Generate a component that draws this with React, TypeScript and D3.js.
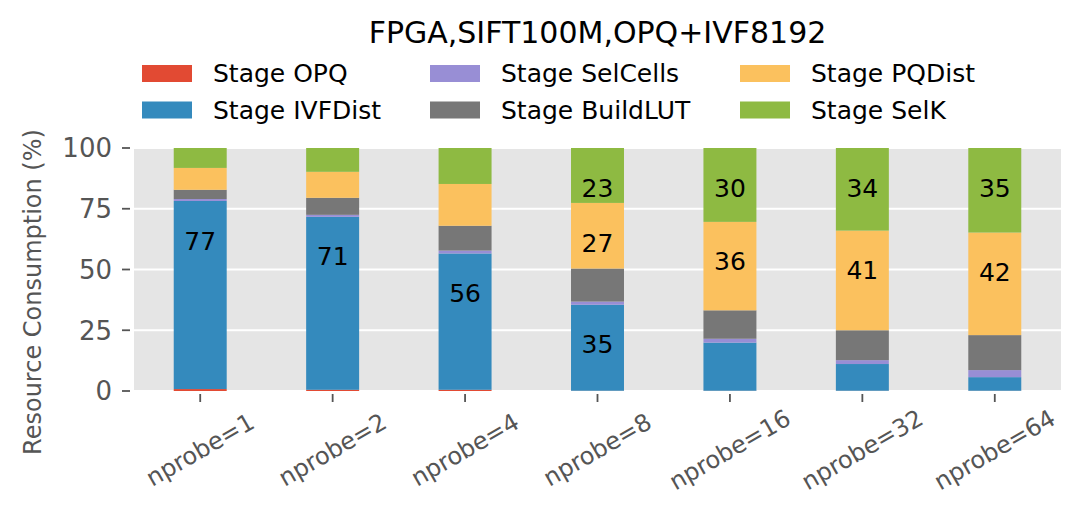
import { scaleBand, scaleLinear, stack } from "d3";

// x categories
const categories = ["nprobe=1", "nprobe=2", "nprobe=4", "nprobe=8", "nprobe=16", "nprobe=32", "nprobe=64"];

// resource consumption per stage (%), one value per category
const stageOPQ = [0.8, 0.5, 0.5, 0.1, 0.1, 0.1, 0.1];
const stageIVFDist = [77.4, 71.2, 56.1, 35.4, 19.8, 11.0, 5.6];
const stageSelCells = [0.8, 0.8, 1.2, 1.3, 1.6, 1.6, 2.9];
const stageBuildLUT = [3.8, 7.0, 10.2, 13.6, 11.7, 12.3, 14.4];
const stagePQDist = [9.0, 10.7, 17.2, 27.0, 36.4, 41.0, 42.2];
const stageSelK = [8.2, 9.8, 14.8, 22.6, 30.4, 34.0, 34.8];

const seriesNames = ["Stage OPQ", "Stage IVFDist", "Stage SelCells", "Stage BuildLUT", "Stage PQDist", "Stage SelK"];
const seriesValues = [stageOPQ, stageIVFDist, stageSelCells, stageBuildLUT, stagePQDist, stageSelK];
const yTicks = [0, 25, 50, 75, 100];

const title = "FPGA,SIFT100M,OPQ+IVF8192";
const yLabel = "Resource Consumption (%)";

// ggplot style colours
const colors = ["#E24A33", "#348ABD", "#988ED5", "#777777", "#FBC15E", "#8EBA42"];
const FONT = "DejaVu Sans, sans-serif";

const WIDTH = 1081;
const HEIGHT = 523;
const PLOT = { left: 134, right: 1061, top: 148, bottom: 391 };

// labels are only drawn for big segments, 20 units under the segment top
const LABEL_MIN = 20;
const LABEL_DROP = 20;

const App = () => {
  const rows = categories.map((c, i) => {
    const row: Record<string, number | string> = { category: c };
    seriesNames.forEach((s, j) => {
      row[s] = seriesValues[j][i];
    });
    return row;
  });
  // @ts-expect-error: d3 stack typing
  const stacked = stack().keys(seriesNames)(rows);

  const x = scaleBand<string>()
    .domain(categories)
    .range([PLOT.left, PLOT.right])
    .paddingInner(0.6)
    .paddingOuter(0.3);
  const y = scaleLinear().domain([0, 100]).range([PLOT.bottom, PLOT.top]);

  return (
    <svg
      width={WIDTH}
      height={HEIGHT}
      style={{ position: "absolute", left: 0, top: 0, background: "white" }}
      fontFamily={FONT}
    >
      {/* title */}
      <text x={(PLOT.left + PLOT.right) / 2} y={43} textAnchor="middle" fontSize={30} fill="black">
        {title}
      </text>

      {/* legend, filled column by column */}
      {seriesNames.map((s, i) => {
        const col = Math.floor(i / 2);
        const row = i % 2;
        const lx = [142, 430, 740][col];
        const ly = 65 + row * 36.5;
        return (
          <g key={s}>
            <rect x={lx} y={ly} width={50} height={17} fill={colors[i]} />
            <text x={lx + 71} y={ly + 17} fontSize={25} fill="black">
              {s}
            </text>
          </g>
        );
      })}

      {/* plot background + grid */}
      <rect
        x={PLOT.left}
        y={PLOT.top}
        width={PLOT.right - PLOT.left}
        height={PLOT.bottom - PLOT.top}
        fill="#E5E5E5"
      />
      {yTicks.map((t) => (
        <line key={t} x1={PLOT.left} x2={PLOT.right} y1={y(t)} y2={y(t)} stroke="white" strokeWidth={1.8} />
      ))}

      {/* stacked bars */}
      {stacked.map((layer, j) => (
        <g key={seriesNames[j]} fill={colors[j]}>
          {layer.map((d, i) => (
            <rect
              key={categories[i]}
              x={x(categories[i])}
              y={y(d[1])}
              width={x.bandwidth()}
              height={y(d[0]) - y(d[1])}
            />
          ))}
        </g>
      ))}

      {/* value labels */}
      {stacked.map((layer, j) =>
        layer.map((d, i) => {
          const v = seriesValues[j][i];
          if (v < LABEL_MIN) return null;
          return (
            <text
              key={`${j}-${i}`}
              x={(x(categories[i]) ?? 0) + x.bandwidth() / 2}
              y={y(d[1] - LABEL_DROP)}
              textAnchor="middle"
              fontSize={25}
              fill="black"
            >
              {Math.round(v)}
            </text>
          );
        })
      )}

      {/* y axis */}
      {yTicks.map((t) => (
        <g key={t}>
          <line x1={122} x2={130} y1={y(t)} y2={y(t)} stroke="#555555" strokeWidth={1.8} />
          <text x={112} y={y(t)} dy="0.36em" textAnchor="end" fontSize={26} fill="#555555">
            {t}
          </text>
        </g>
      ))}
      <text
        transform="translate(41, 292) rotate(-90)"
        textAnchor="middle"
        fontSize={24}
        fill="#555555"
      >
        {yLabel}
      </text>

      {/* x axis */}
      {categories.map((c) => {
        const cx = (x(c) ?? 0) + x.bandwidth() / 2;
        return (
          <g key={c}>
            <line x1={cx} x2={cx} y1={394} y2={402} stroke="#555555" strokeWidth={1.8} />
            <text
              transform={`translate(${cx}, 450) rotate(-30)`}
              textAnchor="middle"
              dominantBaseline="central"
              fontSize={24}
              fill="#555555"
            >
              {c}
            </text>
          </g>
        );
      })}
    </svg>
  );
};

export default App;
